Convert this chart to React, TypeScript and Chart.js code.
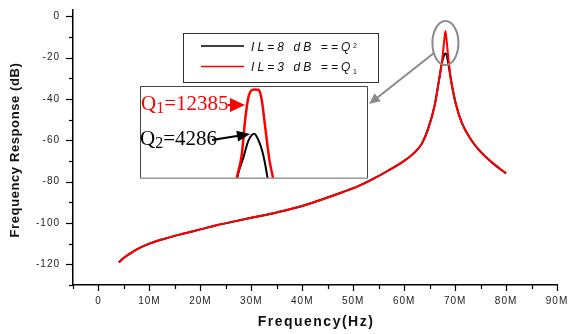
import React, { useEffect, useRef } from "react";
import { Chart, registerables } from "chart.js";
Chart.register(...registerables);

// Main response curves (frequency in MHz, response in dB)
const freqMHz = [4, 5, 6.7, 8, 10, 13, 16.6, 20, 23, 26, 30, 35, 40, 44, 48, 51, 54, 57, 60, 62, 63.5, 64.7, 66, 66.8, 67.45, 67.85, 68.1, 68.35, 68.6, 69.2, 70.1, 71.3, 73.2, 74.8, 77.5, 80];
const redDb = [-119, -116.8, -114, -112.2, -110, -107.6, -105.2, -103.1, -101.2, -99.6, -97.5, -94.9, -91.8, -88.5, -85, -82.2, -78.6, -74.5, -70, -66, -61.5, -54.5, -43, -31.5, -21.5, -12, -7.1, -12, -18.5, -31, -42, -51.5, -60, -65, -71.3, -76];
const blackDb = [-119, -116.8, -114, -112.2, -110, -107.6, -105.2, -103.1, -101.2, -99.6, -97.5, -94.9, -91.8, -88.5, -85, -82.2, -78.6, -74.5, -70, -66, -61.5, -54.5, -43, -31.5, -22, -18.8, -18, -18.8, -22, -31, -42, -51.5, -60, -65, -71.3, -76];

// Inset (zoomed peak)
const zoomRedFreq = [67.915, 67.925, 67.947, 67.961, 67.976, 67.991, 68.005, 68.02, 68.034, 68.049, 68.068, 68.083, 68.093];
const zoomRedDb = [-32, -29.1, -23.1, -14.7, -8.8, -7.1, -6.95, -7.1, -9.6, -16.4, -24.8, -29.1, -32];
const zoomBlackFreq = [67.92, 67.927, 67.954, 67.976, 68.001, 68.02, 68.039, 68.059, 68.066];
const zoomBlackDb = [-32, -29.1, -24.0, -19.8, -18.1, -19.8, -23.1, -29.1, -32];

// Axes ticks
const xTicksMHz = [-5, 0, 5, 10, 15, 20, 25, 30, 35, 40, 45, 50, 55, 60, 65, 70, 75, 80, 85, 90];
const yTicks = [-130, -120, -110, -100, -90, -80, -70, -60, -50, -40, -30, -20, -10, 0];

const legendLabels = ["IL=8 dB ==Q", "IL=3 dB ==Q"];
const legendSubs = ["2", "1"];
const q1Text = ["Q", "1", "=12385"];
const q2Text = ["Q", "2", "=4286"];
const xTitle = "Frequency(Hz)";
const yTitle = "Frequency Response (dB)";

const SANS = "'Liberation Sans', Arial, sans-serif";
const SERIF = "'Liberation Serif', 'Times New Roman', serif";

function arrowHead(ctx: CanvasRenderingContext2D, x0: number, y0: number, x1: number, y1: number, len: number, half: number) {
  const a = Math.atan2(y1 - y0, x1 - x0);
  const bx = x1 - len * Math.cos(a);
  const by = y1 - len * Math.sin(a);
  ctx.beginPath();
  ctx.moveTo(x1, y1);
  ctx.lineTo(bx + half * Math.sin(a), by - half * Math.cos(a));
  ctx.lineTo(bx - half * Math.sin(a), by + half * Math.cos(a));
  ctx.closePath();
  ctx.fill();
}

export default function App() {
  const mainRef = useRef<HTMLCanvasElement>(null);
  const insetRef = useRef<HTMLCanvasElement>(null);

  useEffect(() => {
    const mainPlugin = {
      id: "mainDecor",
      beforeDraw(chart: any) {
        chart.ctx.letterSpacing = "1px";
      },
      afterDraw(chart: any) {
        const ctx: CanvasRenderingContext2D = chart.ctx;
        const xs = chart.scales.x;
        const ys = chart.scales.y;
        const area = chart.chartArea;
        ctx.save();
        ctx.letterSpacing = "0px";
        // tick marks
        ctx.strokeStyle = "#000";
        ctx.lineWidth = 1.2;
        xs.ticks.forEach((t: any) => {
          const px = Math.round(xs.getPixelForValue(t.value)) + 0.5;
          const major = Math.round(t.value / 1e6) % 10 === 0;
          ctx.beginPath();
          ctx.moveTo(px, area.bottom);
          ctx.lineTo(px, area.bottom + (major ? 6 : 4));
          ctx.stroke();
        });
        ys.ticks.forEach((t: any) => {
          const py = Math.round(ys.getPixelForValue(t.value)) + 0.5;
          const major = Math.round(t.value) % 20 === 0;
          ctx.beginPath();
          ctx.moveTo(area.left, py);
          ctx.lineTo(area.left - (major ? 7 : 4), py);
          ctx.stroke();
        });
        // axis titles
        ctx.fillStyle = "#111";
        ctx.textAlign = "center";
        ctx.textBaseline = "middle";
        ctx.font = `bold 14px ${SANS}`;
        ctx.letterSpacing = "1.5px";
        ctx.fillText(xTitle, 316, 322);
        ctx.save();
        ctx.translate(15, 150);
        ctx.rotate(-Math.PI / 2);
        ctx.font = `bold 13px ${SANS}`;
        ctx.letterSpacing = "0.6px";
        ctx.fillText(yTitle, 0, 0);
        ctx.restore();
        ctx.letterSpacing = "0px";

        // legend box
        ctx.strokeStyle = "#333";
        ctx.lineWidth = 1;
        ctx.strokeRect(183.5, 33.5, 195, 49);
        const colors = ["#000000", "#ff0000"];
        const rows = [46, 66.5];
        rows.forEach((ry, i) => {
          ctx.strokeStyle = colors[i];
          ctx.lineWidth = 1.5;
          ctx.beginPath();
          ctx.moveTo(201, ry);
          ctx.lineTo(244, ry);
          ctx.stroke();
          ctx.fillStyle = "#111";
          ctx.textAlign = "left";
          ctx.textBaseline = "alphabetic";
          ctx.font = `italic 12px ${SANS}`;
          ctx.letterSpacing = "3.1px";
          ctx.fillText(legendLabels[i], 251, ry + 4.5);
          const w = ctx.measureText(legendLabels[i]).width;
          ctx.font = `7px ${SANS}`;
          ctx.letterSpacing = "0px";
          ctx.fillText(legendSubs[i], 251 + w - 0.5, ry + (i === 0 ? 2 : 7));
        });

        // ellipse around peak
        const cx = xs.getPixelForValue(68.1e6);
        const cy = ys.getPixelForValue(-13);
        ctx.strokeStyle = "#8a8a8a";
        ctx.fillStyle = "#8a8a8a";
        ctx.lineWidth = 2;
        ctx.beginPath();
        ctx.ellipse(cx, cy, 13, 22, 0, 0, Math.PI * 2);
        ctx.stroke();
        // arrow toward inset
        const sx = cx - 11.5, sy = cy + 10;
        const tx = 369, ty = 104;
        ctx.beginPath();
        ctx.moveTo(sx, sy);
        ctx.lineTo(tx + 6, ty - 4.5);
        ctx.stroke();
        arrowHead(ctx, sx, sy, tx, ty, 11, 5);
        ctx.restore();
      },
    };

    const main = new Chart(mainRef.current!, {
      type: "line",
      data: {
        datasets: [
          {
            label: "IL=3 dB",
            data: freqMHz.map((f, i) => ({ x: f * 1e6, y: redDb[i] })),
            borderColor: "#ff0000",
            borderWidth: 2,
            pointRadius: 0,
            cubicInterpolationMode: "monotone",
          },
          {
            label: "IL=8 dB",
            data: freqMHz.map((f, i) => ({ x: f * 1e6, y: blackDb[i] })),
            borderColor: "#000000",
            borderWidth: 2,
            pointRadius: 0,
            cubicInterpolationMode: "monotone",
          },
        ],
      },
      options: {
        responsive: false,
        animation: false,
        layout: { padding: { top: 10, right: 11, left: 0, bottom: 0 } },
        plugins: { legend: { display: false }, tooltip: { enabled: false } },
        scales: {
          x: {
            type: "linear",
            min: -5e6,
            max: 90e6,
            afterBuildTicks: (s: any) => {
              s.ticks = xTicksMHz.map((v) => ({ value: v * 1e6 }));
            },
            afterFit: (s: any) => {
              s.height = 49;
              s.paddingLeft = 0;
              s.paddingRight = 0;
              s.paddingTop = 0;
              s.paddingBottom = 0;
            },
            grid: { display: false, drawTicks: false },
            border: { display: true, color: "#000", width: 1.5 },
            ticks: {
              autoSkip: false,
              maxRotation: 0,
              padding: 10,
              color: "#222",
              font: { family: SANS, size: 10 },
              callback: (v: any) => {
                const m = Math.round(Number(v) / 1e6);
                if (m % 10 !== 0) return "";
                return m === 0 ? "0" : `${m}M`;
              },
            },
          },
          y: {
            type: "linear",
            min: -130,
            max: 3,
            afterBuildTicks: (s: any) => {
              s.ticks = yTicks.map((v) => ({ value: v }));
            },
            afterFit: (s: any) => {
              s.width = 73;
              s.paddingLeft = 0;
              s.paddingRight = 0;
              s.paddingTop = 0;
              s.paddingBottom = 0;
            },
            grid: { display: false, drawTicks: false },
            border: { display: true, color: "#000", width: 1.5 },
            ticks: {
              autoSkip: false,
              padding: 13,
              color: "#222",
              font: { family: SANS, size: 10 },
              callback: (v: any) => (Math.round(Number(v)) % 20 === 0 ? String(Math.round(Number(v))) : ""),
            },
          },
        },
      },
      plugins: [mainPlugin],
    } as any);

    const insetPlugin = {
      id: "insetDecor",
      beforeDraw(chart: any) {
        const ctx = chart.ctx;
        ctx.save();
        ctx.fillStyle = "#fff";
        ctx.fillRect(0, 0, chart.width, chart.height);
        ctx.restore();
      },
      afterDraw(chart: any) {
        const ctx: CanvasRenderingContext2D = chart.ctx;
        const W = chart.width, H = chart.height;
        ctx.save();
        // frame
        ctx.strokeStyle = "#444";
        ctx.lineWidth = 1;
        ctx.beginPath();
        ctx.moveTo(0.5, H - 1);
        ctx.lineTo(0.5, 0.5);
        ctx.lineTo(W - 0.5, 0.5);
        ctx.lineTo(W - 0.5, H - 1);
        ctx.stroke();
        ctx.strokeStyle = "#999";
        ctx.lineWidth = 1.5;
        ctx.beginPath();
        ctx.moveTo(0, H - 0.75);
        ctx.lineTo(W, H - 0.75);
        ctx.stroke();
        // labels
        const drawQ = (parts: string[], x: number, y: number, color: string) => {
          ctx.fillStyle = color;
          ctx.textAlign = "left";
          ctx.textBaseline = "alphabetic";
          ctx.font = `21px ${SERIF}`;
          ctx.fillText(parts[0], x, y);
          let cx = x + ctx.measureText(parts[0]).width;
          ctx.font = `16px ${SERIF}`;
          ctx.fillText(parts[1], cx, y + 3);
          cx += ctx.measureText(parts[1]).width;
          ctx.font = `21px ${SERIF}`;
          ctx.fillText(parts[2], cx, y);
          return cx + ctx.measureText(parts[2]).width;
        };
        const e1 = drawQ(q1Text, 1, 24, "#ff0000");
        const e2 = drawQ(q2Text, 0, 59, "#000000");
        // red arrow
        ctx.fillStyle = "#ff0000";
        ctx.strokeStyle = "#ff0000";
        ctx.lineWidth = 2;
        ctx.beginPath();
        ctx.moveTo(e1 - 1, 19);
        ctx.lineTo(94, 19);
        ctx.stroke();
        arrowHead(ctx, e1, 19, 105, 19, 15, 7);
        // black arrow
        ctx.fillStyle = "#000";
        ctx.strokeStyle = "#000";
        ctx.beginPath();
        ctx.moveTo(e2 - 5, 54);
        ctx.lineTo(100, 49.6);
        ctx.stroke();
        arrowHead(ctx, e2 - 5, 54.5, 110, 48, 13, 5.5);
        ctx.restore();
      },
    };

    const inset = new Chart(insetRef.current!, {
      type: "line",
      data: {
        datasets: [
          {
            data: zoomRedFreq.map((f, i) => ({ x: f, y: zoomRedDb[i] })),
            borderColor: "#ff0000",
            borderWidth: 2.5,
            pointRadius: 0,
            cubicInterpolationMode: "monotone",
          },
          {
            data: zoomBlackFreq.map((f, i) => ({ x: f, y: zoomBlackDb[i] })),
            borderColor: "#000000",
            borderWidth: 2,
            pointRadius: 0,
            cubicInterpolationMode: "monotone",
          },
        ],
      },
      options: {
        responsive: false,
        animation: false,
        layout: { padding: 0 },
        plugins: { legend: { display: false }, tooltip: { enabled: false } },
        scales: {
          x: { type: "linear", min: 67.5, max: 68.5, display: false },
          y: { type: "linear", min: -29.5, max: -6.1, display: false },
        },
      },
      plugins: [insetPlugin],
    } as any);

    return () => {
      main.destroy();
      inset.destroy();
    };
  }, []);

  return (
    <div style={{ position: "absolute", left: 0, top: 0, width: 568, height: 334, background: "#fff" }}>
      <canvas ref={mainRef} width={568} height={334} style={{ display: "block", width: 568, height: 334 }} />
      <canvas
        ref={insetRef}
        width={228}
        height={93}
        style={{ position: "absolute", left: 140, top: 86, width: 228, height: 93, display: "block" }}
      />
    </div>
  );
}
